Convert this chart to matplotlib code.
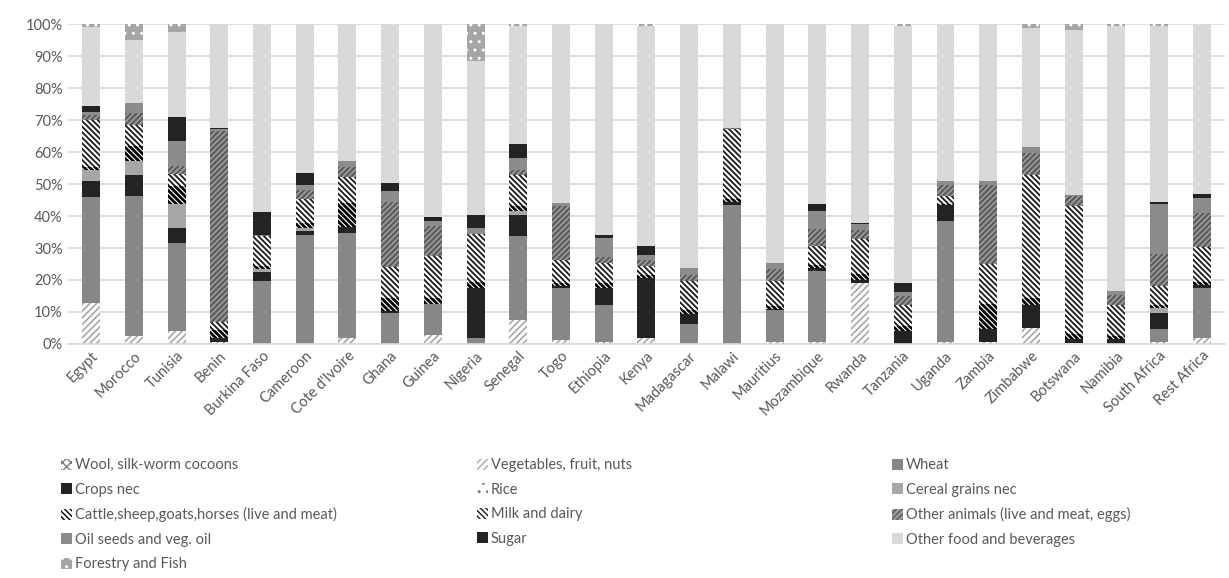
import numpy as np
import matplotlib
matplotlib.use("Agg")
import matplotlib.pyplot as plt

plt.rcParams['font.family'] = ['Lato', 'DejaVu Sans']

# --- data (share of each product, %) ---
countries = ["Egypt", "Morocco", "Tunisia", "Benin", "Burkina Faso", "Cameroon",
             "Cote d'Ivoire", "Ghana", "Guinea", "Nigeria", "Senegal", "Togo",
             "Ethiopia", "Kenya", "Madagascar", "Malawi", "Mauritius", "Mozambique",
             "Rwanda", "Tanzania", "Uganda", "Zambia", "Zimbabwe", "Botswana",
             "Namibia", "South Africa", "Rest Africa"]

wool       = [0, 0, 0, 0, 0, 0, 0, 0, 0, 0, 0, 0, 0, 0, 0, 0, 0, 0, 0, 0, 0, 0, 0, 0, 0, 0, 0]
vegetables = [12.9, 2.5, 3.9, 0.7, 0, 0, 1.8, 0, 2.8, 0, 7.4, 1.2, 0.5, 1.8, 0, 0, 0.5, 0.7, 19.1, 0, 0.5, 0.5, 4.9, 0.3, 0, 0.5, 1.8]
wheat      = [33.0, 43.7, 27.7, 0, 19.7, 34.2, 33.0, 9.8, 9.8, 1.8, 26.5, 16.4, 11.7, 0, 6.3, 43.6, 10.0, 22.1, 0, 0, 37.9, 0, 0, 0, 0, 4.1, 15.6]
crops_nec  = [5.1, 6.5, 4.7, 1.1, 2.8, 1.1, 1.8, 0.5, 0, 15.6, 6.4, 0.4, 5.2, 18.9, 3.2, 0.7, 0.3, 0.8, 0.9, 4.1, 5.0, 4.1, 7.3, 1.2, 1.5, 5.2, 1.0]
rice       = [0, 0.3, 0, 0, 0, 0, 0, 0, 0, 0, 0, 0, 0, 0, 0, 0, 0, 0, 0, 0, 0, 0, 0, 0, 0, 0, 0]
cereal     = [3.4, 4.1, 7.6, 0, 0.8, 1.0, 0, 0, 0, 0, 1.2, 0, 0, 0, 0, 0, 0, 0, 0, 0, 0, 0, 0, 0, 0, 1.5, 0]
cattle     = [1.0, 4.7, 5.4, 2.5, 1.0, 1.5, 7.5, 4.2, 1.8, 2.0, 1.5, 1.0, 1.5, 0.8, 1.0, 1.0, 1.0, 1.0, 2.0, 1.5, 0.5, 7.8, 2.3, 1.5, 1.0, 1.0, 1.0]
milk       = [14.7, 6.8, 3.9, 2.7, 9.4, 7.4, 8.0, 9.5, 13.1, 15.0, 10.0, 7.1, 6.5, 2.8, 9.2, 21.9, 7.9, 6.0, 10.7, 6.6, 2.3, 12.5, 38.5, 40.1, 9.7, 5.8, 10.9]
animals    = [1.6, 3.6, 2.4, 59.5, 0.5, 2.8, 3.3, 20.4, 9.3, 0, 1.5, 17.0, 1.8, 1.8, 1.8, 0.3, 3.6, 5.5, 2.8, 2.8, 3.6, 24.9, 6.7, 3.1, 3.1, 9.9, 10.7]
oil_seeds  = [1.0, 3.1, 7.8, 0.7, 0, 1.8, 1.7, 3.4, 1.6, 1.9, 3.7, 1.0, 6.0, 1.7, 2.3, 0, 2.1, 5.6, 1.9, 1.3, 1.1, 1.1, 1.8, 0.5, 1.2, 15.9, 4.5]
sugar      = [1.6, 0, 7.6, 0.3, 7.1, 3.7, 0, 2.6, 1.2, 4.0, 4.4, 0, 1.0, 2.7, 0, 0, 0, 2.2, 0.5, 2.8, 0, 0, 0, 0, 0, 0.4, 1.5]
other_food = [24.7, 19.8, 26.5, 32.5, 58.7, 46.5, 42.9, 49.6, 60.4, 48.3, 37.0, 55.9, 65.8, 69.1, 76.2, 32.5, 74.6, 56.1, 62.1, 80.5, 49.1, 49.1, 37.3, 51.5, 83.1, 55.3, 53.0]
forestry   = [1.0, 4.9, 2.5, 0, 0, 0, 0, 0, 0, 11.4, 0.4, 0, 0, 0.4, 0, 0, 0, 0, 0, 0.4, 0, 0, 1.2, 1.8, 0.4, 0.4, 0]

# name, values, face colour, hatch colour, hatch, hatch linewidth
series = [
    ("Wool, silk-worm cocoons", wool, "white", "#7f7f7f", "xxxx", 1.0),
    ("Vegetables, fruit, nuts", vegetables, "white", "#a6a6a6", "/////", 1.2),
    ("Wheat", wheat, "#878787", None, None, 1.0),
    ("Crops nec", crops_nec, "#232323", None, None, 1.0),
    ("Rice", rice, "white", "#7f7f7f", "..", 1.0),
    ("Cereal grains nec", cereal, "#a6a6a6", None, None, 1.0),
    ("Cattle,sheep,goats,horses (live and meat)", cattle, "white", "#000000", "\\" * 6, 2.0),
    ("Milk and dairy", milk, "white", "#1a1a1a", "\\" * 6, 1.3),
    ("Other animals (live and meat, eggs)", animals, "#9a9a9a", "#5a5a5a", "//////", 1.5),
    ("Oil seeds and veg. oil", oil_seeds, "#8c8c8c", None, None, 1.0),
    ("Sugar", sugar, "#232323", None, None, 1.0),
    ("Other food and beverages", other_food, "#d9d9d9", None, None, 1.0),
    ("Forestry and Fish", forestry, "#a6a6a6", "white", "..", 1.0),
]

fig = plt.figure(figsize=(12.29, 5.78), dpi=100)
ax = fig.add_axes([0.055, 0.405, 0.942, 0.553])

x = np.arange(len(countries))
bottom = np.zeros(len(countries))
handles = {}
for name, vals, face, hcol, hatch, hlw in series:
    vals = np.array(vals, dtype=float)
    with plt.rc_context({'hatch.linewidth': hlw}):
        if hatch:
            bars = ax.bar(x, vals, 0.42, bottom=bottom, color=face, edgecolor=hcol,
                          hatch=hatch, linewidth=0)
        else:
            bars = ax.bar(x, vals, 0.42, bottom=bottom, color=face, linewidth=0)
    handles[name] = bars
    bottom += vals

ax.set_ylim(0, 100)
ax.set_xlim(-0.55, len(countries) - 0.45)
ax.set_yticks(np.arange(0, 101, 10))
ax.set_yticklabels([f"{v}%" for v in range(0, 101, 10)])
ax.yaxis.grid(True, color="#d9d9d9", linewidth=1.2)
ax.set_axisbelow(True)
for s in ["top", "right", "left"]:
    ax.spines[s].set_visible(False)
ax.spines["bottom"].set_color("#d9d9d9")
ax.spines["bottom"].set_linewidth(1.2)
ax.tick_params(axis="both", length=0, colors="#595959", labelsize=10.5)
ax.set_xticks(x)
ax.set_xticklabels(countries, rotation=45, ha="right", rotation_mode="anchor")

# legend: three columns placed at fixed positions like Excel
columns = [
    ["Wool, silk-worm cocoons", "Crops nec", "Cattle,sheep,goats,horses (live and meat)",
     "Oil seeds and veg. oil", "Forestry and Fish"],
    ["Vegetables, fruit, nuts", "Rice", "Milk and dairy", "Sugar"],
    ["Wheat", "Cereal grains nec", "Other animals (live and meat, eggs)",
     "Other food and beverages"],
]
col_x = [0.050, 0.388, 0.726]
for cx, names in zip(col_x, columns):
    leg = fig.legend([handles[n] for n in names], names, loc="upper left",
                     bbox_to_anchor=(cx, 0.207), frameon=False, fontsize=10.5,
                     handlelength=0.75, handleheight=0.75, handletextpad=0.2,
                     labelspacing=0.72, borderpad=0, borderaxespad=0)
    for t in leg.get_texts():
        t.set_color("#595959")

fig.savefig("out.png", dpi=100)
